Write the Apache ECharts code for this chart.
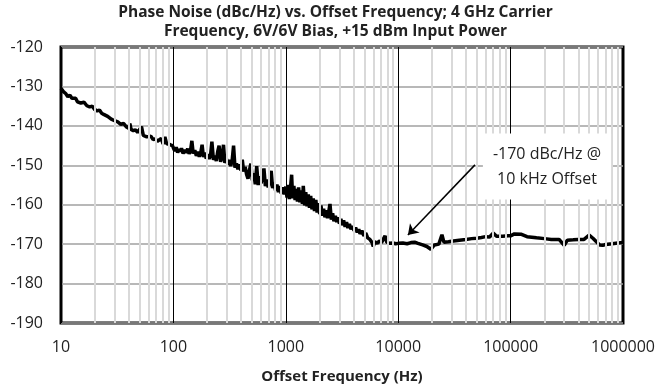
<!DOCTYPE html>
<html>
<head>
<meta charset="utf-8">
<script src="https://cdn.jsdelivr.net/npm/echarts@6/dist/echarts.min.js"></script>
<style>
  html, body { margin: 0; padding: 0; background: #fff; }
  #chart { width: 671px; height: 390px; }
</style>
</head>
<body>
<div id="chart"></div>
<script>
// offset frequency (Hz)
var freq = [
  10, 10.5, 11, 11.5, 12, 12.5, 13, 13.5, 14, 15, 16, 17, 18, 19, 20, 21, 22, 23, 24, 25,
  26, 27, 28, 29, 30, 32, 34, 36, 38, 40, 41, 42, 44, 46, 48, 50, 52, 54, 56, 58,
  60, 63, 66, 69, 72, 75, 78, 81, 84, 87, 90, 94, 98,
  100, 103, 106, 109, 112, 115, 118, 122, 126, 130, 134, 138, 142, 146, 150, 155, 160, 165, 170, 175,
  180, 185, 190, 196, 202, 208, 214, 220, 227, 234, 241, 248, 255, 263, 271, 279, 287, 296, 305, 314,
  323, 333, 343, 353, 364, 375, 386, 398, 410, 422, 435, 448, 461, 475, 489, 504, 519, 535, 551, 568,
  585, 602, 620, 639, 658, 678, 698, 719, 741, 763, 786, 810, 834, 859, 885, 912, 939, 967,
  1000, 1025, 1050, 1075, 1100, 1127, 1150, 1180, 1210, 1240, 1270, 1300, 1335, 1370, 1405, 1431,
  1470, 1505, 1545, 1585, 1625, 1665, 1710, 1755, 1800, 1850, 1900, 1950, 2000, 2055, 2110, 2170,
  2230, 2290, 2350, 2410, 2472, 2540, 2610, 2680, 2760, 2840, 2920, 3000, 3090, 3180, 3270, 3370,
  3470, 3570, 3680, 3800, 3920, 4050, 4180, 4320, 4460, 4573, 4750, 4950, 5150, 5350, 5600, 5850,
  6000, 6200, 6500, 6800, 7100, 7640, 7900, 8400, 9000, 9500,
  10000, 11000, 12000, 13000, 14000, 15000, 16500, 18000, 19500, 21000, 23000, 24500, 25500,
  28000, 31000, 35000, 40000, 45000, 50000, 55000, 60000, 65000, 70000, 75000, 85000, 95000,
  100000, 108000, 125000, 140000, 170000, 200000, 230000, 270000, 300000, 320000, 360000,
  400000, 450000, 500000, 540000, 580000, 620000, 660000, 700000, 800000, 900000, 1000000
];

// phase noise (dBc/Hz)
var phaseNoise = [
  -130.5, -131.3, -131.8, -132.6, -132.2, -133.0, -133.4, -133.0, -133.9, -134.2, -134.0, -134.9, -135.2, -135.0, -135.9, -136.2, -136.0, -136.8, -137.1, -136.9,
  -137.6, -137.8, -138.3, -138.0, -138.7, -139.0, -139.6, -139.4, -140.2, -140.6, -139.4, -140.9, -141.2, -141.0, -141.7, -142.0, -140.2, -142.4, -142.2, -142.8,
  -143.0, -142.6, -143.5, -143.3, -143.9, -144.3, -143.2, -144.6, -142.8, -144.5, -144.0, -144.8, -145.0,
  -145.6, -146.4, -145.4, -146.8, -145.9, -146.5, -145.7, -147.0, -146.1, -146.8, -145.8, -147.1, -146.3, -143.8, -147.0, -146.2, -147.6, -146.6, -147.8, -146.9,
  -144.8, -147.9, -146.8, -148.3, -147.2, -148.4, -147.5, -144.0, -148.6, -147.6, -148.9, -146.5, -145.0, -149.1, -148.0, -144.8, -149.4, -148.3, -149.8, -148.6,
  -150.2, -148.9, -145.0, -150.6, -149.5, -151.0, -149.8, -151.3, -148.6, -151.6, -150.4, -152.3, -153.4, -151.2, -149.6, -153.8, -152.0, -154.8, -150.2, -155.0,
  -152.8, -154.6, -153.0, -150.8, -155.3, -153.6, -155.6, -154.0, -151.4, -155.8, -154.4, -156.4, -154.9, -156.8, -155.3, -157.2, -155.6, -157.4,
  -155.4, -158.2, -155.0, -158.6, -155.8, -152.4, -158.4, -155.2, -158.8, -156.0, -159.2, -155.6, -159.4, -156.4, -159.8, -155.2,
  -160.2, -156.8, -160.4, -157.4, -160.8, -157.8, -161.2, -158.4, -161.6, -158.8, -162.0, -159.6, -162.4, -160.2, -162.8, -161.0,
  -163.2, -161.4, -163.4, -161.8, -159.8, -163.8, -162.2, -164.2, -162.8, -164.4, -163.2, -164.8, -163.6, -165.2, -164.0, -165.6,
  -164.4, -165.9, -164.9, -166.2, -165.4, -166.6, -165.8, -167.0, -166.2, -167.4, -166.6, -167.9, -167.2, -168.4, -168.8, -169.6,
  -170.6, -169.4, -169.8, -169.2, -169.6, -167.9, -169.5, -169.8, -169.7, -169.9,
  -169.8, -169.7, -169.9, -169.6, -169.5, -169.8, -170.2, -170.6, -171.3, -170.2, -170.0, -167.6, -169.5,
  -169.4, -169.2, -169.0, -168.8, -168.6, -168.5, -168.3, -168.1, -168.2, -167.2, -168.0, -168.0, -167.9,
  -167.9, -167.4, -167.5, -168.1, -168.4, -168.6, -168.8, -168.8, -170.3, -169.0, -168.9,
  -168.8, -168.8, -167.7, -168.5, -169.4, -170.2, -170.3, -170.1, -169.9, -169.7, -169.6
];

var yTicks = [-190, -180, -170, -160, -150, -140, -130, -120];
var minorTicks = [
  20, 30, 40, 50, 60, 70, 80, 90,
  200, 300, 400, 500, 600, 700, 800, 900,
  2000, 3000, 4000, 5000, 6000, 7000, 8000, 9000,
  20000, 30000, 40000, 50000, 60000, 70000, 80000, 90000,
  200000, 300000, 400000, 500000, 600000, 700000, 800000, 900000
];

var chart = echarts.init(document.getElementById('chart'));

var points = [];
for (var i = 0; i < freq.length; i++) {
  points.push([freq[i], phaseNoise[i]]);
}

var option = {
  animation: false,
  title: {
    text: 'Phase Noise (dBc/Hz) vs. Offset Frequency; 4 GHz Carrier\nFrequency, 6V/6V Bias, +15 dBm Input Power',
    left: 'center',
    top: 0,
    padding: [3, 0, 0, 13],
    textStyle: {
      fontFamily: 'Open Sans',
      fontWeight: 'bold',
      fontSize: 15.5,
      lineHeight: 19,
      color: '#222'
    }
  },
  grid: {
    left: 61,
    right: 48,
    top: 47,
    bottom: 67,
    show: true,
    borderColor: '#000',
    borderWidth: 3,
    containLabel: false
  },
  xAxis: {
    type: 'log',
    logBase: 10,
    min: 10,
    max: 1000000,
    name: 'Offset Frequency (Hz)',
    nameLocation: 'middle',
    nameGap: 46,
    nameTextStyle: {
      fontFamily: 'Open Sans',
      fontWeight: 'bold',
      fontSize: 15,
      color: '#222'
    },
    axisLine: { show: false },
    axisTick: { show: false },
    axisLabel: {
      margin: 16,
      fontFamily: 'Open Sans',
      fontSize: 16,
      color: '#222',
      formatter: function (v) { return String(Math.round(v)); }
    },
    splitLine: { show: true, lineStyle: { color: '#000', width: 1 } }
  },
  yAxis: {
    type: 'value',
    min: yTicks[0],
    max: yTicks[yTicks.length - 1],
    interval: 10,
    axisLine: { show: false },
    axisTick: { show: false },
    axisLabel: {
      margin: 18,
      fontFamily: 'Open Sans',
      fontSize: 16,
      color: '#222'
    },
    splitLine: { show: true, lineStyle: { color: '#a0a0a0', width: 1.5 } }
  },
  series: [
    {
      // minor log grid + annotation box
      type: 'line',
      data: [],
      z: 1,
      silent: true,
      markLine: {
        silent: true,
        symbol: 'none',
        label: { show: false },
        lineStyle: { color: '#d9d9d9', width: 2, type: 'solid' },
        data: minorTicks.map(function (v) { return { xAxis: v }; })
      },
      markPoint: {
        silent: true,
        symbol: 'rect',
        symbolSize: 1,
        itemStyle: { color: 'rgba(0,0,0,0)' },
        label: {
          show: true,
          position: 'inside',
          formatter: '-170 dBc/Hz @\n10 kHz Offset',
          fontFamily: 'Open Sans',
          fontSize: 16,
          lineHeight: 25,
          color: '#222',
          align: 'center',
          verticalAlign: 'middle',
          backgroundColor: '#fff',
          padding: [8, 10, 8, 10]
        },
        data: [{ coord: [210800, -150.3] }]
      }
    },
    {
      name: 'Phase Noise',
      type: 'line',
      z: 3,
      showSymbol: false,
      lineStyle: { color: '#000', width: 3.5 },
      itemStyle: { color: '#000' },
      data: points,
      markLine: {
        silent: true,
        symbol: ['none', 'arrow'],
        symbolSize: 10,
        label: { show: false },
        lineStyle: { color: '#000', width: 1.5, type: 'solid' },
        data: [[{ coord: [48200, -149.9] }, { coord: [12200, -167.7] }]]
      }
    }
  ]
};

chart.setOption(option);
</script>
</body>
</html>
